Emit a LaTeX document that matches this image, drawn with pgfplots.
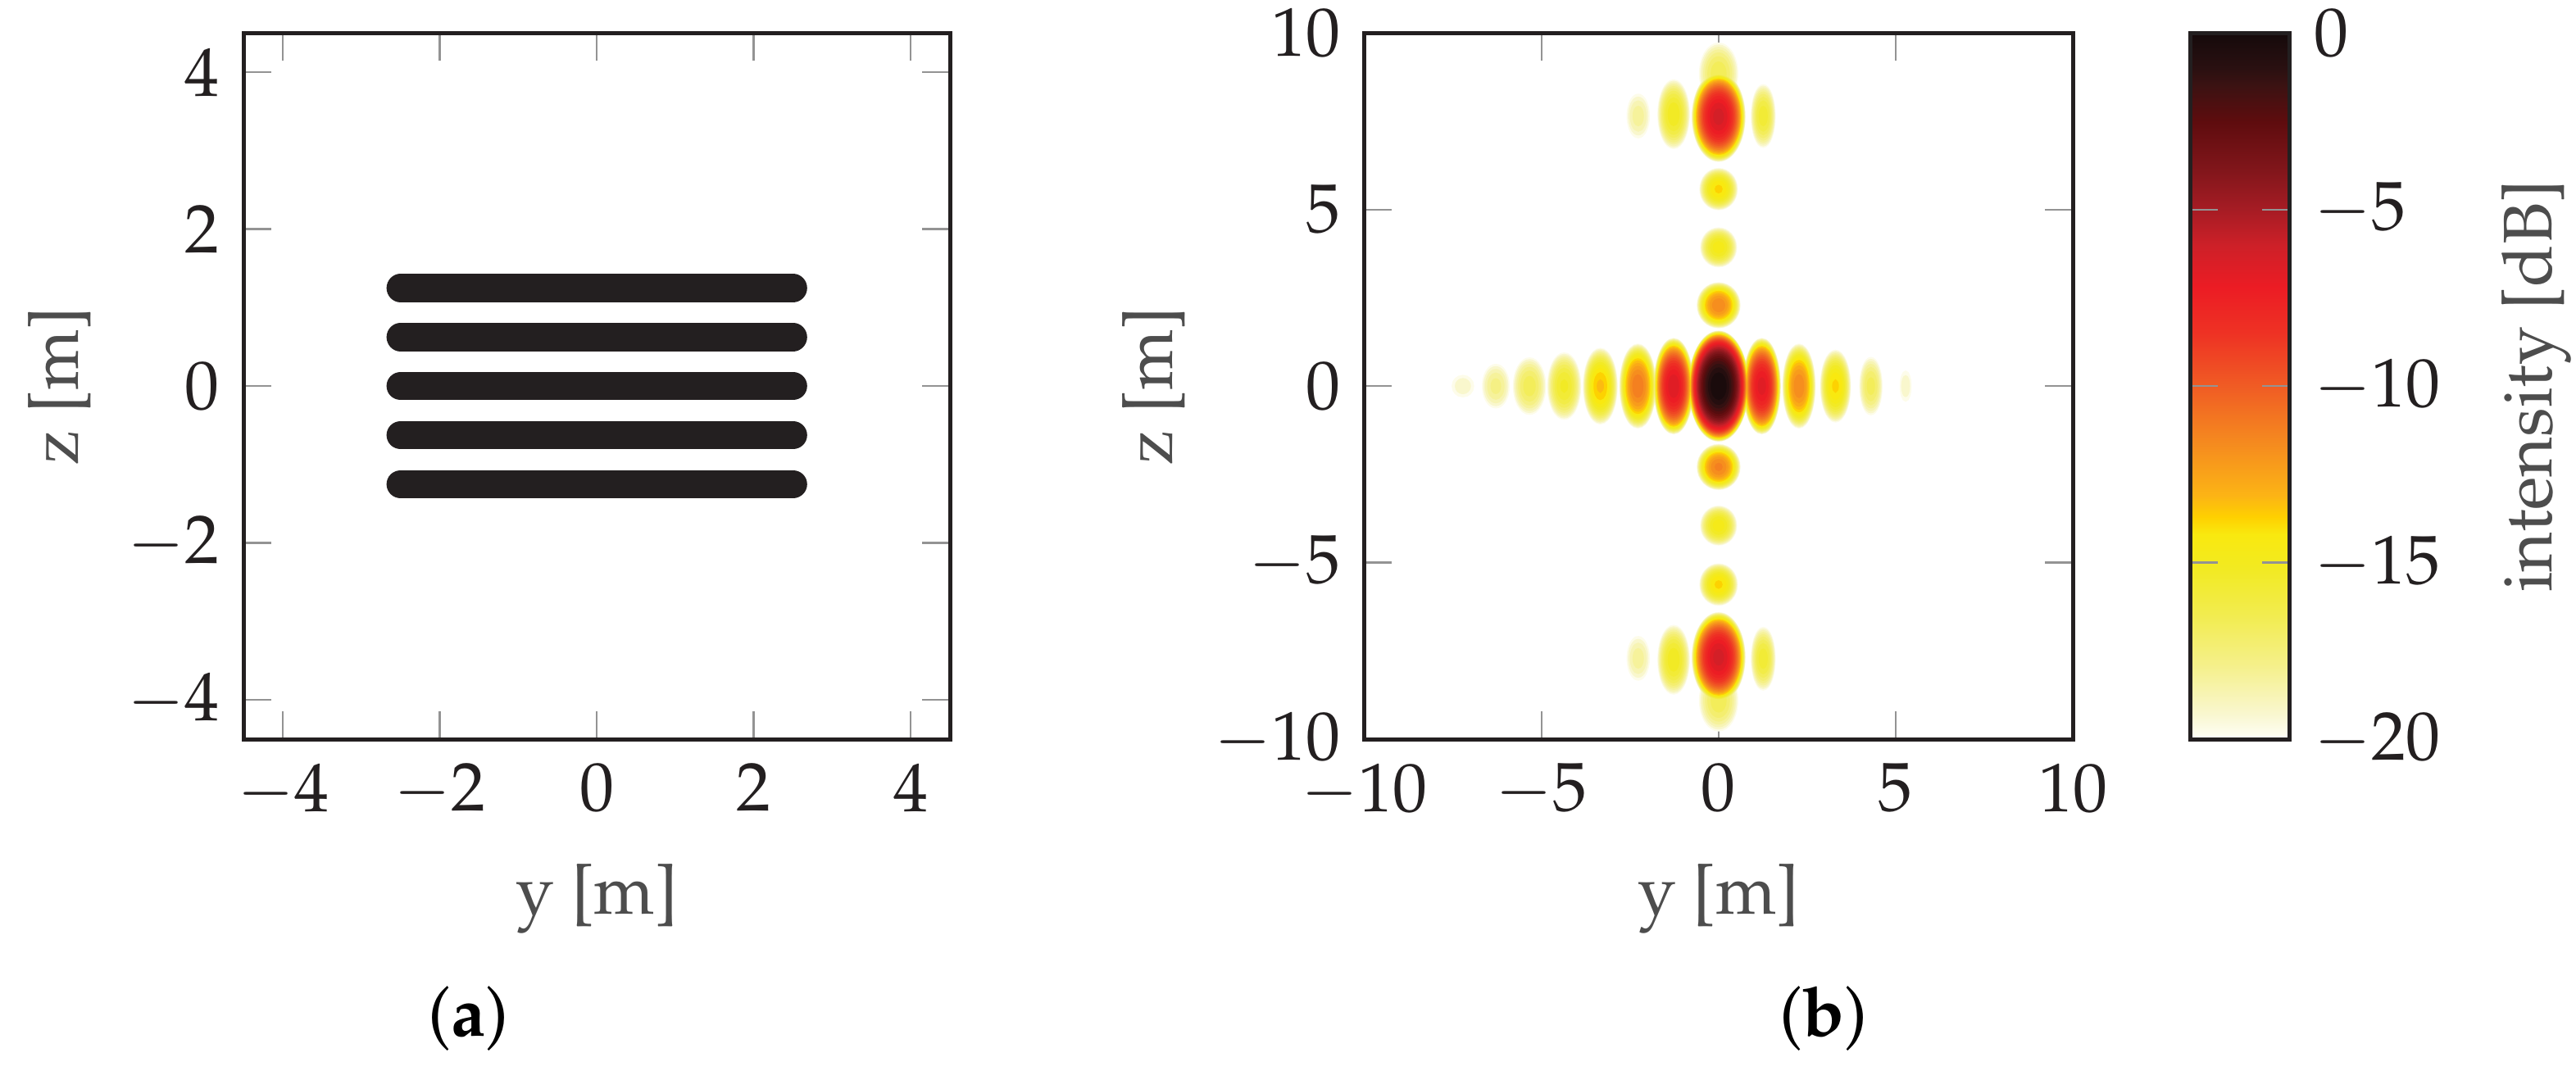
\documentclass[border=0pt]{standalone}
\usepackage[T1]{fontenc}
\usepackage{mathpazo}
\usepackage{pgfplots}
\usepackage{pgfplotstable}
\pgfplotsset{compat=1.18}
\definecolor{ink}{HTML}{231F20}
\definecolor{labgray}{HTML}{4D4D4D}
\definecolor{tickgray}{HTML}{939393}

% lobes of the pattern: centre (y,z), half sizes at -20 dB (a,b), peak p [dB]
\pgfplotstableread{
y z a b p
-7.22 0 0.26 0.26 -19.1
-6.29 0 0.33 0.55 -17.8
-5.34 0 0.40 0.72 -16.7
-4.36 0 0.41 0.85 -15.4
-3.34 0 0.42 0.97 -13.4
-2.28 0 0.45 1.08 -11.1
-1.27 0 0.49 1.23 -6.6
0 0 0.76 1.42 0
1.22 0 0.46 1.23 -6.8
2.27 0 0.40 1.08 -11.6
3.30 0 0.37 0.92 -13.9
4.30 0 0.27 0.73 -16.8
5.28 0 0.12 0.37 -19.1
0 2.29 0.54 0.57 -11.6
0 3.93 0.45 0.49 -14.7
0 5.58 0.47 0.52 -13.9
0 7.63 0.67 1.15 -6.3
0 8.85 0.48 0.78 -16.6
-2.27 7.65 0.27 0.55 -18.2
-1.27 7.70 0.39 0.88 -15.1
1.26 7.65 0.29 0.80 -15.7
0 -2.29 0.54 0.57 -11.4
0 -3.95 0.45 0.49 -14.7
0 -5.62 0.47 0.52 -13.9
0 -7.68 0.67 1.15 -6.3
0 -8.90 0.48 0.78 -16.6
-2.27 -7.71 0.27 0.55 -18.2
-1.27 -7.75 0.39 0.88 -15.1
1.26 -7.72 0.29 0.80 -15.7
}\lobes

\pgfplotsset{
  colormap={heat}{
    rgb255(0pt)=(255,255,248); rgb255(0.7pt)=(249,247,208); rgb255(2.1pt)=(245,240,138);
    rgb255(3.5pt)=(242,236,80); rgb255(4.9pt)=(242,234,32); rgb255(5.8pt)=(249,233,15);
    rgb255(6.3pt)=(254,208,0); rgb255(6.9pt)=(252,180,21); rgb255(8.4pt)=(245,138,31);
    rgb255(10pt)=(240,92,36); rgb255(11.5pt)=(238,50,36); rgb255(12.8pt)=(236,28,36);
    rgb255(14pt)=(205,32,40); rgb255(15pt)=(166,28,36); rgb255(16.1pt)=(130,22,27);
    rgb255(17.5pt)=(94,12,14); rgb255(18.5pt)=(60,18,18); rgb255(19pt)=(42,16,17);
    rgb255(20pt)=(21,10,11)
  },
  panel/.style={
    scale only axis,
    axis line style={draw=ink, line width=0.6pt},
    tick style={draw=tickgray, line width=0.3pt},
    major tick length=4pt, tick align=inside,
    tick label style={color=ink},
    label style={color=labgray},
    xlabel={y [m]}, ylabel={z [m]},
    x label style={at={(axis description cs:0.5,0)}, anchor=center, yshift=-23.2pt},
  },
}

\begin{document}
\begin{tikzpicture}
\path[use as bounding box] (0,0) rectangle (374.2pt,155.6pt);

\begin{axis}[panel, at={(35.4pt,48.2pt)}, anchor=south west,
  width=102.6pt, height=102.6pt,
  xmin=-4.5, xmax=4.5, ymin=-4.5, ymax=4.5,
  xtick={-4,-2,0,2,4}, ytick={-4,-2,0,2,4},
  y label style={at={(axis description cs:-0.261,0.5)}, anchor=center},
]
\addplot[ink, line width=4.1pt, line cap=round] coordinates {(-2.5,1.25) (2.5,1.25)};
\addplot[ink, line width=4.1pt, line cap=round] coordinates {(-2.5,0.625) (2.5,0.625)};
\addplot[ink, line width=4.1pt, line cap=round] coordinates {(-2.5,0) (2.5,0)};
\addplot[ink, line width=4.1pt, line cap=round] coordinates {(-2.5,-0.625) (2.5,-0.625)};
\addplot[ink, line width=4.1pt, line cap=round] coordinates {(-2.5,-1.25) (2.5,-1.25)};
\end{axis}

\begin{axis}[panel, at={(198.2pt,48.2pt)}, anchor=south west,
  width=102.9pt, height=102.6pt,
  xmin=-10, xmax=10, ymin=-10, ymax=10,
  xtick={-10,-5,0,5,10}, ytick={-10,-5,0,5,10},
  y label style={at={(axis description cs:-0.297,0.5)}, anchor=center},
  colormap name=heat, point meta min=-20, point meta max=0,
  colorbar,
  colorbar style={
    at={(parent axis.north east)}, anchor=north west, xshift=8.5pt,
    scale only axis, width=14.5pt, height=102.6pt,
    axis line style={draw=ink, line width=0.6pt},
    ytick={-20,-15,-10,-5,0},
    tick align=inside, ytick pos=both, yticklabel pos=right,
    major tick length=4pt,
    tick style={draw=tickgray, line width=0.3pt},
    tick label style={color=ink},
    ylabel={intensity [dB]},
    ylabel style={at={(axis description cs:3.475,0.5)}, anchor=center, color=labgray},
  },
]
% one layer of ellipses per 0.5 dB, drawn from the outer (-20 dB) contour inwards
\pgfplotsinvokeforeach{-20,-19.5,-19,-18.5,-18,-17.5,-17,-16.5,-16,-15.5,-15,-14.5,-14,-13.5,-13,-12.5,-12,-11.5,-11,-10.5,-10,-9.5,-9,-8.5,-8,-7.5,-7,-6.5,-6,-5.5,-5,-4.5,-4,-3.5,-3,-2.5,-2,-1.5,-1,-0.5}{
\addplot[scatter, only marks, mark=*, mark size=1pt,
  scatter/use mapped color={draw=mapped color, fill=mapped color},
  point meta={#1+0.25},
  restrict expr to domain={\thisrow{p}}{#1:10},
  visualization depends on={\thisrow{a}*5.55*acos(min(0.99999,10^((#1-(\thisrow{p}))/20)))/acos(10^((-20-(\thisrow{p}))/20)) \as \rx},
  visualization depends on={\thisrow{b}*5.54*acos(min(0.99999,10^((#1-(\thisrow{p}))/20)))/acos(10^((-20-(\thisrow{p}))/20)) \as \ry},
  scatter/@pre marker code/.append style={/tikz/xscale=\rx, /tikz/yscale=\ry},
] table[x=y, y=z] {\lobes};
}
\end{axis}

\node at (68pt,7.6pt) {(\textbf{a})};
\node at (264.9pt,7.6pt) {(\textbf{b})};
\end{tikzpicture}
\end{document}
